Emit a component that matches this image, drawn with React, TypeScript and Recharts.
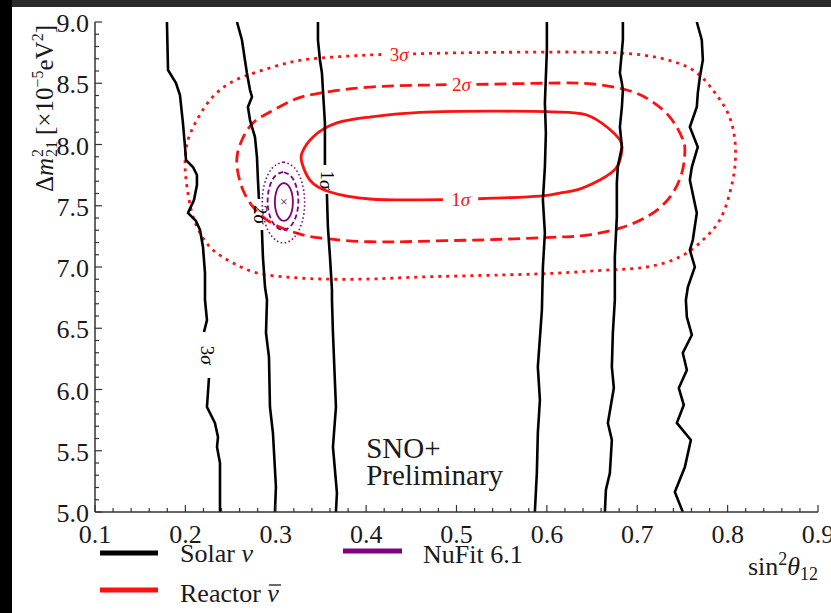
import React from 'react';
import { ComposedChart, Line, Scatter, XAxis, YAxis, ReferenceDot, Legend } from 'recharts';

const FONT = '"Liberation Serif", "DejaVu Serif", "Times New Roman", serif';
const AXIS = '#333333';
const TXT = '#1a1a1a';
const RED = '#ff1010';
const PURPLE = '#800080';
const TS = { fontFamily: FONT } as React.CSSProperties;

// ---- axis ticks ----
const X_MAJOR = [0.1, 0.2, 0.3, 0.4, 0.5, 0.6, 0.7, 0.8, 0.9];
const X_MINOR = [0.12, 0.14, 0.16, 0.18, 0.22, 0.24, 0.26, 0.28, 0.32, 0.34, 0.36, 0.38, 0.42, 0.44, 0.46, 0.48, 0.52, 0.54, 0.56, 0.58, 0.62, 0.64, 0.66, 0.68, 0.72, 0.74, 0.76, 0.78, 0.82, 0.84, 0.86, 0.88];
const Y_MAJOR = [5.0, 5.5, 6.0, 6.5, 7.0, 7.5, 8.0, 8.5, 9.0];
const Y_MINOR = [5.1, 5.2, 5.3, 5.4, 5.6, 5.7, 5.8, 5.9, 6.1, 6.2, 6.3, 6.4, 6.6, 6.7, 6.8, 6.9, 7.1, 7.2, 7.3, 7.4, 7.6, 7.7, 7.8, 7.9, 8.1, 8.2, 8.3, 8.4, 8.6, 8.7, 8.8, 8.9];
const X_TICKS = [...X_MAJOR, ...X_MINOR].sort((a, b) => a - b);
const Y_TICKS = [...Y_MAJOR, ...Y_MINOR].sort((a, b) => a - b);

// ---- legend ----
const SERIES_NAMES = ['Solar', 'Reactor', 'NuFit 6.1'];

type P = [number, number | null];

// ---- Solar nu contours (black), null = label gap ----
const SOLAR_3S_LEFT: P[] = [[0.1796, 9.0], [0.1808, 8.608], [0.1896, 8.502], [0.194, 8.404], [0.1973, 8.176], [0.1996, 7.98], [0.2007, 7.873], [0.2084, 7.816], [0.2128, 7.751], [0.2128, 7.669], [0.2095, 7.547], [0.2029, 7.441], [0.2117, 7.376], [0.2162, 7.302], [0.2195, 7.163], [0.2217, 6.951], [0.2217, 6.731], [0.2239, 6.567], [0.2206, 6.469], [0.2239, null], [0.2261, 6.094], [0.2239, 5.857], [0.2327, 5.727], [0.2361, 5.612], [0.235, 5.531], [0.2383, 5.4], [0.2383, 5.0]];
const SOLAR_2S_LEFT: P[] = [[0.2571, 9.0], [0.2626, 8.853], [0.2659, 8.69], [0.2681, 8.584], [0.2715, 8.445], [0.2737, 8.388], [0.2692, 8.306], [0.2715, 8.2], [0.277, 8.061], [0.2792, 7.898], [0.2803, 7.71], [0.2814, 7.555], [0.283, null], [0.2847, 7.302], [0.2858, 7.082], [0.2881, 6.837], [0.2903, 6.731], [0.2892, 6.461], [0.2925, 6.265], [0.2936, 5.857], [0.2969, 5.645], [0.3002, 5.204], [0.2991, 5.0]];
const SOLAR_1S_LEFT: P[] = [[0.3467, 9.0], [0.3467, 8.853], [0.3489, 8.69], [0.3511, 8.584], [0.3522, 8.445], [0.3544, 8.176], [0.3544, 7.833], [0.3555, null], [0.3566, 7.596], [0.3577, 7.327], [0.36, 7.082], [0.3622, 6.812], [0.3622, 6.731], [0.3633, 6.461], [0.3666, 5.857], [0.3633, 5.531], [0.3677, 5.155], [0.3666, 5.0]];
const SOLAR_1S_RIGHT: P[] = [[0.6, 9.0], [0.6, 8.771], [0.5978, 8.339], [0.5989, 8.094], [0.5978, 7.816], [0.5956, 7.547], [0.5978, 7.278], [0.5956, 7.0], [0.5945, 6.649], [0.59, 6.184], [0.5923, 5.914], [0.59, 5.645], [0.5889, 5.318], [0.5867, 5.0]];
const SOLAR_2S_RIGHT: P[] = [[0.6841, 9.0], [0.6841, 8.853], [0.6808, 8.584], [0.683, 8.502], [0.6841, 8.445], [0.683, 8.306], [0.6808, 8.143], [0.683, 7.98], [0.6785, 7.816], [0.6774, 7.686], [0.6774, 7.408], [0.6752, 7.082], [0.6752, 6.812], [0.6752, 6.731], [0.673, 6.461], [0.6719, 6.184], [0.6741, 6.012], [0.6675, 5.727], [0.6719, 5.588], [0.6697, 5.318], [0.6653, 5.18], [0.6642, 5.0]];
const SOLAR_3S_RIGHT: P[] = [[0.7659, 9.0], [0.7714, 8.853], [0.7726, 8.69], [0.7693, 8.551], [0.767, 8.42], [0.7659, 8.306], [0.7582, 8.143], [0.767, 7.98], [0.7604, 7.816], [0.7582, 7.71], [0.7659, 7.441], [0.7615, 7.22], [0.7582, 7.139], [0.7637, 7.0], [0.756, 6.837], [0.7538, 6.731], [0.7549, 6.592], [0.7604, 6.445], [0.7504, 6.298], [0.7549, 6.159], [0.746, 6.012], [0.7515, 5.873], [0.7438, 5.727], [0.7593, 5.588], [0.7527, 5.367], [0.7416, 5.163], [0.7504, 5.0]];

// ---- Reactor anti-nu contours (red), start/end at the label gap ----
const REACTOR_3S: P[] = [[0.452, 8.74], [0.52, 8.75], [0.614, 8.755], [0.681, 8.747], [0.725, 8.706], [0.7615, 8.608], [0.7836, 8.445], [0.8002, 8.257], [0.808, 8.037], [0.808, 7.816], [0.8024, 7.604], [0.7914, 7.384], [0.7726, 7.22], [0.7471, 7.082], [0.7106, 7.0], [0.6697, 6.976], [0.6144, 6.951], [0.55, 6.935], [0.4595, 6.918], [0.4042, 6.902], [0.3489, 6.902], [0.3124, 6.918], [0.2792, 6.951], [0.2527, 7.033], [0.2305, 7.139], [0.2162, 7.278], [0.2073, 7.441], [0.2018, 7.653], [0.1996, 7.849], [0.2029, 8.037], [0.2128, 8.2], [0.2272, 8.363], [0.2493, 8.502], [0.2792, 8.592], [0.3124, 8.665], [0.3489, 8.706], [0.4042, 8.731], [0.421, 8.735]];
const REACTOR_2S: P[] = [[0.522, 8.49], [0.5701, 8.497], [0.6144, 8.502], [0.6509, 8.494], [0.6885, 8.445], [0.7139, 8.363], [0.7361, 8.224], [0.7493, 8.061], [0.7527, 7.955], [0.7493, 7.767], [0.7361, 7.571], [0.7139, 7.424], [0.6808, 7.318], [0.6442, 7.261], [0.6144, 7.245], [0.5701, 7.232], [0.52, 7.22], [0.4595, 7.21], [0.4042, 7.206], [0.3489, 7.237], [0.319, 7.286], [0.2936, 7.367], [0.2748, 7.49], [0.2637, 7.629], [0.2582, 7.767], [0.2571, 7.898], [0.2626, 8.037], [0.2748, 8.176], [0.2936, 8.265], [0.319, 8.363], [0.3489, 8.42], [0.4042, 8.469], [0.4595, 8.484], [0.489, 8.488]];
const REACTOR_1S: P[] = [[0.524, 7.557], [0.5923, 7.578], [0.6144, 7.604], [0.6332, 7.629], [0.6586, 7.71], [0.6774, 7.816], [0.683, 7.955], [0.6808, 8.037], [0.6664, 8.143], [0.6442, 8.241], [0.6144, 8.265], [0.55, 8.272], [0.4595, 8.262], [0.4042, 8.224], [0.3677, 8.176], [0.3412, 8.061], [0.329, 7.931], [0.329, 7.849], [0.3378, 7.71], [0.36, 7.612], [0.4042, 7.555], [0.4595, 7.548], [0.485, 7.55]];

// ---- NuFit 6.1 (purple) ----
const NUFIT_1S: P[] = [[0.309, 7.686], [0.304, 7.665], [0.3003, 7.609], [0.299, 7.531], [0.3003, 7.453], [0.304, 7.397], [0.309, 7.376], [0.314, 7.397], [0.3177, 7.453], [0.319, 7.531], [0.3177, 7.609], [0.314, 7.665], [0.309, 7.686]];
const NUFIT_2S: P[] = [[0.308, 7.776], [0.2995, 7.744], [0.2933, 7.658], [0.291, 7.539], [0.2933, 7.42], [0.2995, 7.334], [0.308, 7.302], [0.3165, 7.334], [0.3227, 7.42], [0.325, 7.539], [0.3227, 7.658], [0.3165, 7.744], [0.308, 7.776]];
const NUFIT_3S: P[] = [[0.3085, 7.857], [0.2968, 7.813], [0.2881, 7.692], [0.285, 7.527], [0.2881, 7.362], [0.2968, 7.241], [0.3085, 7.197], [0.3203, 7.241], [0.3289, 7.362], [0.332, 7.527], [0.3289, 7.692], [0.3203, 7.813], [0.3085, 7.857]];
const NUFIT_BEST = [{ x: 0.309, y: 7.533 }];

// ---- contour labels [x, y, text] ----
const RED_LABELS: [number, number, string][] = [[0.4365, 8.735, '3'], [0.5055, 8.49, '2'], [0.5045, 7.553, '1']];
const BLACK_LABELS: [number, number, string][] = [[0.357, 7.71, '1'], [0.2835, 7.43, '2'], [0.2245, 6.28, '3']];
const ANNOTATION = { x: 0.4, y: 5.44, lines: ['SNO+', 'Preliminary'] };

const toPts = (a: P[]) => a.map(([x, y]) => ({ x, y }));

const isIn = (arr: number[], v: number) => arr.some((a) => Math.abs(a - v) < 1e-9);

const BottomTick = (props: any) => {
  const { x, y, payload } = props;
  const major = isIn(X_MAJOR, payload.value);
  return (
    <g>
      <line x1={x} x2={x} y1={y} y2={y - (major ? 7 : 4)} stroke={AXIS} strokeWidth={1.2} />
      {major && (
        <text x={x} y={y + 31} textAnchor="middle" style={TS} fontFamily={FONT} fontSize={26} fill={TXT}>
          {payload.value.toFixed(1)}
        </text>
      )}
    </g>
  );
};
const TopTick = (props: any) => {
  const { x, y, payload } = props;
  const major = isIn(X_MAJOR, payload.value);
  return <line x1={x} x2={x} y1={y} y2={y + (major ? 7 : 4)} stroke={AXIS} strokeWidth={1.2} />;
};
const LeftTick = (props: any) => {
  const { x, y, payload } = props;
  const major = isIn(Y_MAJOR, payload.value);
  return (
    <g>
      <line x1={x} x2={x + (major ? 7 : 4)} y1={y} y2={y} stroke={AXIS} strokeWidth={1.2} />
      {major && (
        <text x={x - 6} y={y + 10} textAnchor="end" style={TS} fontFamily={FONT} fontSize={26} fill={TXT}>
          {payload.value.toFixed(1)}
        </text>
      )}
    </g>
  );
};
const RightTick = (props: any) => {
  const { x, y, payload } = props;
  const major = isIn(Y_MAJOR, payload.value);
  return <line x1={x} x2={x - (major ? 7 : 4)} y1={y} y2={y} stroke={AXIS} strokeWidth={1.2} />;
};

const YLabel = (props: any) => {
  const vb = props.viewBox || { x: 35, y: 22, width: 60, height: 490 };
  const x = vb.x + vb.width - 42;
  const y = vb.y + 3;
  return (
    <text x={x} y={y} transform={`rotate(-90 ${x} ${y})`} textAnchor="end" style={TS} fontFamily={FONT} fontSize={25} fill={TXT}>
      <tspan>Δ</tspan>
      <tspan fontStyle="italic">m</tspan>
      <tspan fontSize={16} dx={1} dy={-10}>2</tspan>
      <tspan fontSize={16} dx={-8} dy={14}>21</tspan>
      <tspan dx={6} dy={-4}>[×10</tspan>
      <tspan fontSize={16} dy={-10}>−5</tspan>
      <tspan dy={10}>eV</tspan>
      <tspan fontSize={16} dy={-10}>2</tspan>
      <tspan dy={10}>]</tspan>
    </text>
  );
};

const XLabel = (props: any) => {
  const vb = props.viewBox || { x: 95, y: 512, width: 723, height: 40 };
  const x = vb.x + vb.width;
  const y = vb.y + 63;
  return (
    <text x={x} y={y} textAnchor="end" style={TS} fontFamily={FONT} fontSize={26} fill={TXT}>
      <tspan>sin</tspan>
      <tspan fontSize={18} dy={-10}>2</tspan>
      <tspan fontStyle="italic" dy={10}>θ</tspan>
      <tspan fontSize={18} dy={5}>12</tspan>
    </text>
  );
};

const sigmaShape = (n: string, color: string, rotated: boolean) => (props: any) => {
  const { cx, cy } = props;
  return (
    <text
      x={cx}
      y={cy}
      textAnchor="middle"
      dominantBaseline="central"
      transform={rotated ? `rotate(90 ${cx} ${cy})` : undefined}
      fill={color}
      style={TS}
      fontFamily={FONT}
      fontSize={19}
    >
      {n}
      <tspan fontStyle="italic">σ</tspan>
    </text>
  );
};

const annotationShape = (props: any) => {
  const { cx, cy } = props;
  return (
    <text x={cx} y={cy} style={TS} fontFamily={FONT} fontSize={29} fill={TXT}>
      <tspan x={cx}>{ANNOTATION.lines[0]}</tspan>
      <tspan x={cx} dy={27}>{ANNOTATION.lines[1]}</tspan>
    </text>
  );
};

const CrossShape = (props: any) => {
  const { cx, cy } = props;
  const s = 2.5;
  return (
    <path d={`M${cx - s},${cy - s}L${cx + s},${cy + s}M${cx - s},${cy + s}L${cx + s},${cy - s}`} stroke={PURPLE} strokeWidth={1} fill="none" />
  );
};

const LegendContent = () => (
  <svg width={831} height={90} style={{ display: 'block' }}>
    <line x1={100} x2={158} y1={33} y2={33} stroke="#000" strokeWidth={5} />
    <text x={180} y={42} style={TS} fontFamily={FONT} fontSize={26} fill={TXT}>
      {SERIES_NAMES[0]} <tspan fontStyle="italic">ν</tspan>
    </text>
    <line x1={343} x2={402} y1={31} y2={31} stroke={PURPLE} strokeWidth={5} />
    <text x={423} y={43} style={TS} fontFamily={FONT} fontSize={26} fill={TXT}>
      {SERIES_NAMES[2]}
    </text>
    <line x1={100} x2={158} y1={70} y2={70} stroke={RED} strokeWidth={5} />
    <text x={180} y={82} style={TS} fontFamily={FONT} fontSize={26} fill={TXT}>
      {SERIES_NAMES[1]} <tspan fontStyle="italic">ν</tspan>
    </text>
    <line x1={269} x2={281} y1={65} y2={65} stroke={TXT} strokeWidth={1.3} />
  </svg>
);

const lineCommon = {
  dataKey: 'y',
  dot: false,
  activeDot: false,
  isAnimationActive: false,
  legendType: 'none' as const,
};

export default function App() {
  return (
    <div style={{ position: 'absolute', left: 0, top: 0, width: 831, height: 613, background: '#fff', overflow: 'hidden', fontFamily: FONT }}>
      <div style={{ position: 'absolute', left: 0, top: 0, width: 12, height: 613, background: '#000' }} />
      <div style={{ position: 'absolute', left: 12, top: 0, width: 819, height: 7, background: '#2b2b2b' }} />
      <div style={{ position: 'absolute', left: 0, top: 0 }}>
        <ComposedChart width={831} height={613} margin={{ top: 22, right: 13, bottom: 61, left: 35 }} style={{ fontFamily: FONT }}>
          <XAxis
            dataKey="x"
            type="number"
            domain={[0.1, 0.9]}
            allowDataOverflow
            ticks={X_TICKS}
            interval={0}
            tickSize={0}
            tickMargin={0}
            tickLine={false}
            tick={BottomTick}
            height={40}
            axisLine={{ stroke: AXIS, strokeWidth: 1.5 }}
            label={{ content: XLabel }}
          />
          <XAxis
            xAxisId="top"
            orientation="top"
            dataKey="x"
            type="number"
            domain={[0.1, 0.9]}
            allowDataOverflow
            ticks={X_TICKS}
            interval={0}
            tickSize={0}
            tickMargin={0}
            tickLine={false}
            tick={TopTick}
            height={0}
            axisLine={{ stroke: AXIS, strokeWidth: 1.5 }}
          />
          <YAxis
            type="number"
            domain={[5, 9]}
            allowDataOverflow
            ticks={Y_TICKS}
            interval={0}
            tickSize={0}
            tickMargin={0}
            tickLine={false}
            tick={LeftTick}
            width={60}
            axisLine={{ stroke: AXIS, strokeWidth: 1.5 }}
            label={{ content: YLabel }}
          />
          <YAxis
            yAxisId="right"
            orientation="right"
            type="number"
            domain={[5, 9]}
            allowDataOverflow
            ticks={Y_TICKS}
            interval={0}
            tickSize={0}
            tickMargin={0}
            tickLine={false}
            tick={RightTick}
            width={0}
            axisLine={{ stroke: AXIS, strokeWidth: 1.5 }}
          />

          <Line {...lineCommon} data={toPts(REACTOR_3S)} type="natural" stroke={RED} strokeWidth={2.8} strokeDasharray="3 5" />
          <Line {...lineCommon} data={toPts(REACTOR_2S)} type="natural" stroke={RED} strokeWidth={2.8} strokeDasharray="12 6" />
          <Line {...lineCommon} data={toPts(REACTOR_1S)} type="natural" stroke={RED} strokeWidth={2.8} />

          <Line {...lineCommon} data={toPts(SOLAR_3S_LEFT)} type="linear" stroke="#000" strokeWidth={2.6} />
          <Line {...lineCommon} data={toPts(SOLAR_2S_LEFT)} type="linear" stroke="#000" strokeWidth={2.6} />
          <Line {...lineCommon} data={toPts(SOLAR_1S_LEFT)} type="linear" stroke="#000" strokeWidth={2.6} />
          <Line {...lineCommon} data={toPts(SOLAR_1S_RIGHT)} type="linear" stroke="#000" strokeWidth={2.6} />
          <Line {...lineCommon} data={toPts(SOLAR_2S_RIGHT)} type="linear" stroke="#000" strokeWidth={2.6} />
          <Line {...lineCommon} data={toPts(SOLAR_3S_RIGHT)} type="linear" stroke="#000" strokeWidth={2.6} />

          <Line {...lineCommon} data={toPts(NUFIT_3S)} type="natural" stroke={PURPLE} strokeWidth={1.6} strokeDasharray="1.5 2.5" />
          <Line {...lineCommon} data={toPts(NUFIT_2S)} type="natural" stroke={PURPLE} strokeWidth={1.8} strokeDasharray="5 3" />
          <Line {...lineCommon} data={toPts(NUFIT_1S)} type="natural" stroke={PURPLE} strokeWidth={1.8} />
          <Scatter data={NUFIT_BEST} dataKey="y" fill={PURPLE} shape={CrossShape} isAnimationActive={false} legendType="none" />

          {RED_LABELS.map(([x, y, n], i) => (
            <ReferenceDot key={'r' + i} x={x} y={y} r={1} shape={sigmaShape(n, RED, false)} />
          ))}
          {BLACK_LABELS.map(([x, y, n], i) => (
            <ReferenceDot key={'b' + i} x={x} y={y} r={1} shape={sigmaShape(n, '#000', true)} />
          ))}
          <ReferenceDot x={ANNOTATION.x} y={ANNOTATION.y} r={1} shape={annotationShape} />

          <Legend
            layout="horizontal"
            align="center"
            verticalAlign="middle"
            width={831}
            height={90}
            wrapperStyle={{ left: 0, top: 520, width: 831, height: 90 }}
            content={LegendContent}
          />
        </ComposedChart>
      </div>
    </div>
  );
}
